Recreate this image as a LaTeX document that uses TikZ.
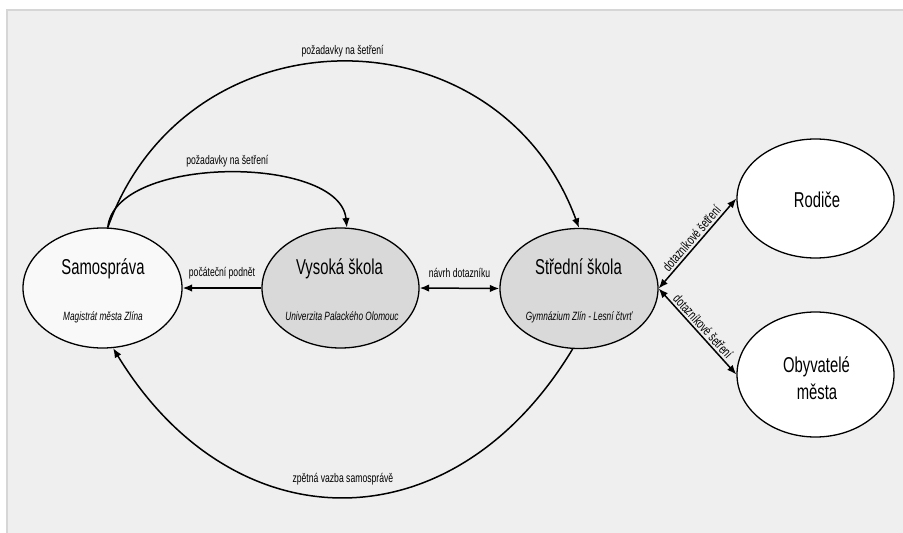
\documentclass[tikz,border=0pt]{standalone}
\usepackage{fontspec}
\setmainfont{Liberation Sans}[FakeStretch=0.69]
\usetikzlibrary{arrows.meta,shapes.geometric}
\definecolor{bgc}{HTML}{EFEFEF}
\definecolor{bordc}{HTML}{D6D6D6}
\definecolor{darkfill}{HTML}{D9D9D9}
\definecolor{lightfill}{HTML}{F9F9F9}
\begin{document}
\begin{tikzpicture}[x=1pt,y=-1pt,
  ell/.style={draw=black, line width=1.3pt, ellipse, minimum width=158pt, minimum height=120pt, inner sep=0pt},
  title/.style={font=\fontsize{21.5}{25}\selectfont, anchor=base, inner sep=0pt},
  sub/.style={font=\fontsize{12}{14}\selectfont\itshape, anchor=base, inner sep=0pt},
  lbl/.style={font=\fontsize{12.5}{15}\selectfont, inner sep=0pt},
  slbl/.style={font=\fontsize{13.5}{15}\selectfont, inner sep=0pt},
  conn/.style={line width=1.5pt, -{Latex[length=9.5pt,width=7.5pt]}},
  dconn/.style={line width=1.5pt, {Latex[length=9.5pt,width=7.5pt]}-{Latex[length=9.5pt,width=7.5pt]}},
]
\useasboundingbox (0,0) rectangle (903,533);
\fill[white] (0,0) rectangle (903,533);
\fill[bgc] (7,10) rectangle (903,533);
\draw[bordc, line width=1.5pt] (7,533) -- (7,10) -- (903,10);

% ellipses
\node[ell, fill=lightfill, minimum width=159pt] (sam) at (102.5,288) {};
\node[ell, fill=darkfill, minimum width=157pt] (vys) at (340.5,288) {};
\node[ell, fill=darkfill] (ss) at (579,288.5) {};
\node[ell, fill=white, minimum width=157pt, minimum height=119pt] (rod) at (815.5,198.5) {};
\node[ell, fill=white, minimum width=157pt, minimum height=125pt] (oby) at (815.5,374.5) {};

% texts
\node[title] (samT) at (103,274) {Samospráva};
\node[sub] (samS) at (103,320) {Magistrát města Zlína};
\node[title] (vysT) at (339.5,274) {Vysoká škola};
\node[sub] (vysS) at (342,320) {Univerzita Palackého Olomouc};
\node[title] (ssT) at (578.5,274) {Střední škola};
\node[sub] (ssS) at (579,320) {Gymnázium Zlín - Lesní čtvrť};
\node[title] (rodT) at (817,207) {Rodiče};
\node[title] (obyT1) at (816.5,372) {Obyvatelé};
\node[title] (obyT2) at (817,399) {města};

% connectors
\draw[conn] (vys.west) -- node[lbl, anchor=base, yshift=12pt] (l1) {počáteční podnět} (sam.east);
\draw[dconn] (vys.east) -- node[lbl, anchor=base, yshift=11pt] (l2) {návrh dotazníku} (ss.west);
\draw[conn] (sam.85) .. controls +(79,-221) and +(-81,-221) .. node[lbl, anchor=base, yshift=7pt] (l3) {požadavky na šetření} (ss.north);
\draw[conn] (sam.85) .. controls +(7,-73) and +(-7,-73) .. node[lbl, anchor=base, yshift=8pt] (l4) {požadavky na šetření} (vys.84);
\draw[conn] (ss.264) .. controls +(-120,199) and +(120,197) .. node[lbl, anchor=base, yshift=15pt] (l5) {zpětná vazba samosprávě} (sam.280);
\draw[dconn] (ss.east) -- node[slbl, sloped, above=2pt] (l6) {dotazníkové šetření} (rod.west);
\draw[dconn] (ss.east) -- node[slbl, sloped, above=2pt] (l7) {dotazníkové šetření} (oby.west);
\end{tikzpicture}
\end{document}
